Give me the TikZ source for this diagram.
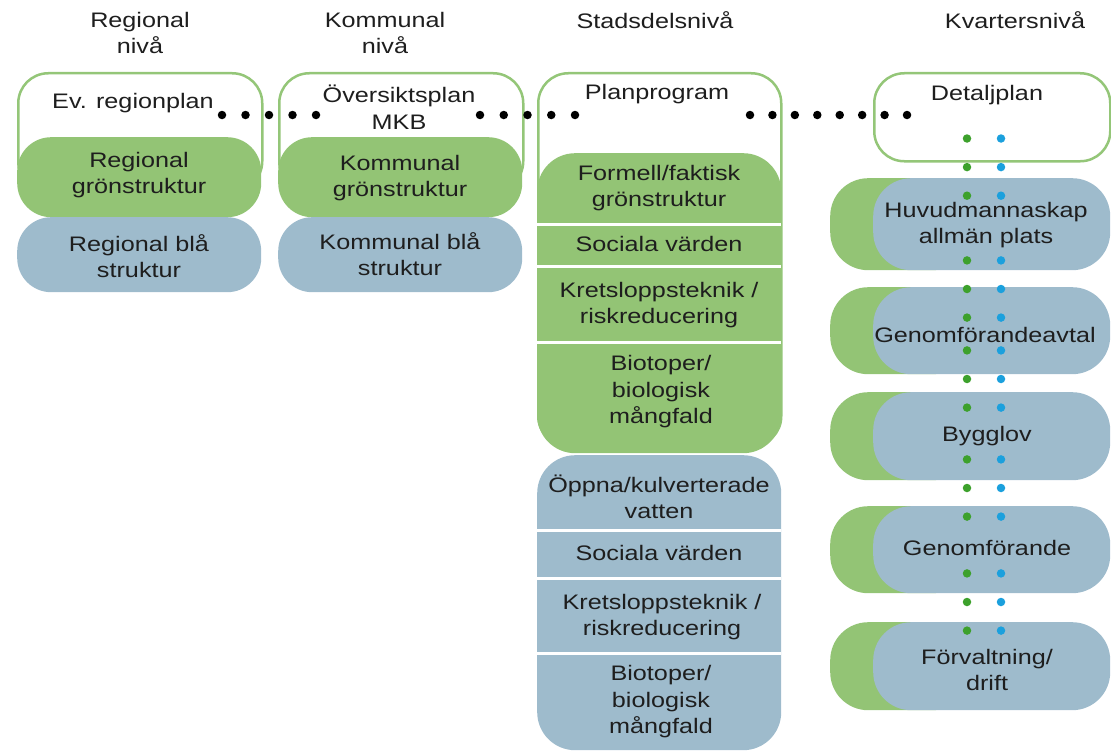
\documentclass[tikz,border=0pt]{standalone}
\usepackage{fontspec}
\setmainfont{Liberation Sans}[FakeStretch=1.2]
\usetikzlibrary{calc}
\definecolor{lgreen}{RGB}{148,198,120}
\definecolor{mgreen}{RGB}{147,196,117}
\definecolor{mblue}{RGB}{158,187,204}
\definecolor{dgreen}{RGB}{61,161,44}
\definecolor{cblue}{RGB}{27,160,221}
\definecolor{txt}{RGB}{30,30,30}
\newcommand\dfont{\fontsize{21pt}{26.5pt}\selectfont}
\begin{document}
\begin{tikzpicture}[x=1pt,y=-1pt,
  outerbox/.style={draw=lgreen, line width=2.5pt, fill=white, rounded corners=30pt, inner sep=0pt, anchor=north west},
  gbox/.style={fill=mgreen, rounded corners=34pt, inner sep=0pt, anchor=north west},
  bbox/.style={fill=mblue, rounded corners=34pt, inner sep=0pt, anchor=north west},
  rowg/.style={fill=mgreen, rounded corners=38pt, inner sep=0pt, anchor=north west, minimum width=140pt},
  rowb/.style={fill=mblue, rounded corners=38pt, inner sep=0pt, anchor=north west, minimum width=237pt},
  lbl/.style={align=center, text=txt, font=\dfont, inner sep=0pt},
  sepline/.style={draw=white, line width=3pt},
  blackdots/.style={draw=black, line width=8.5pt, line cap=round, dash pattern=on 0pt off #1},
  gdots/.style={draw=dgreen, line width=8.5pt, line cap=round, dash pattern=on 0pt off 28.6pt},
  bdots/.style={draw=cblue, line width=8.5pt, line cap=round, dash pattern=on 0pt off 28.6pt}]
\useasboundingbox (0,0) rectangle (1111,752);

% headers
\node[lbl] (hreg) at (140,33) {Regional\\nivå};
\node[lbl] (hkom) at (385,33) {Kommunal\\nivå};
\node[lbl] (hstad) at (655,20) {Stadsdelsnivå};
\node[lbl] (hkv) at (1015,20) {Kvartersnivå};

% column 1
\node[outerbox, minimum width=244pt, minimum height=118pt] (o1) at (17,72) {};
\node[lbl] (evreg) at (133,103) {Ev. regionplan};
\node[gbox, minimum width=244pt, minimum height=80pt] (g1) at (17,137) {};
\node[lbl] (tg1) at (139,175) {Regional\\grönstruktur};
\node[bbox, minimum width=244pt, minimum height=75pt] (b1) at (17,217) {};
\node[lbl] (tb1) at (139,256) {Regional blå\\struktur};

% column 2
\node[outerbox, minimum width=244pt, minimum height=118pt] (o2) at (278,72) {};
\node[lbl] (oversikt) at (399,107) {Översiktsplan\\MKB};
\node[gbox, minimum width=244pt, minimum height=80pt] (g2) at (278,137) {};
\node[lbl] (tg2) at (400,178) {Kommunal\\grönstruktur};
\node[bbox, minimum width=244pt, minimum height=75pt] (b2) at (278,217) {};
\node[lbl] (tb2) at (400,254) {Kommunal blå\\struktur};

% column 3
\node[outerbox, minimum width=243pt, minimum height=373pt] (o3) at (537,72) {};
\node[lbl] (plan) at (657,94) {Planprogram};
\node[gbox, minimum width=244pt, minimum height=300pt, rounded corners=38pt] (g3) at (537,153) {};
\draw[sepline] (g3.west |- 0,224) -- (g3.east |- 0,224);
\draw[sepline] (g3.west |- 0,266) -- (g3.east |- 0,266);
\draw[sepline] (g3.west |- 0,342) -- (g3.east |- 0,342);
\node[lbl] (tg3a) at (659,188) {Formell/faktisk\\grönstruktur};
\node[lbl] (tg3b) at (659,244) {Sociala värden};
\node[lbl] (tg3c) at (659,305) {Kretsloppsteknik /\\riskreducering};
\node[lbl] (tg3d) at (661,392) {Biotoper/\\biologisk\\mångfald};
\node[bbox, minimum width=244pt, minimum height=295pt, rounded corners=38pt] (b3) at (537,455) {};
\draw[sepline] (b3.west |- 0,530) -- (b3.east |- 0,530);
\draw[sepline] (b3.west |- 0,578) -- (b3.east |- 0,578);
\draw[sepline] (b3.west |- 0,653) -- (b3.east |- 0,653);
\node[lbl] (tb3a) at (659,497) {Öppna/kulverterade\\vatten};
\node[lbl] (tb3b) at (659,553) {Sociala värden};
\node[lbl] (tb3c) at (662,617) {Kretsloppsteknik /\\riskreducering};
\node[lbl] (tb3d) at (661,702) {Biotoper/\\biologisk\\mångfald};

% column 4
\node[outerbox, minimum width=236pt, minimum height=88pt] (det) at (873,72) {};
\node[lbl] (tdet) at (987,95) {Detaljplan};
\node[rowg, minimum height=92pt] (r1g) at (830,178) {};
\node[rowb, minimum height=92pt] (r1) at (873,178) {};
\node[lbl] (t1) at (986,225) {Huvudmannaskap\\allmän plats};
\node[rowg, minimum height=87pt] (r2g) at (830,287) {};
\node[rowb, minimum height=87pt] (r2) at (873,287) {};
\node[lbl] (t2) at (985,335) {Genomförandeavtal};
\node[rowg, minimum height=88pt] (r3g) at (830,392) {};
\node[rowb, minimum height=88pt] (r3) at (873,392) {};
\node[lbl] (t3) at (987,436) {Bygglov};
\node[rowg, minimum height=87pt] (r4g) at (830,506) {};
\node[rowb, minimum height=87pt] (r4) at (873,506) {};
\node[lbl] (t4) at (987,548) {Genomförande};
\node[rowg, minimum height=88pt] (r5g) at (830,622) {};
\node[rowb, minimum height=88pt] (r5) at (873,622) {};
\node[lbl] (t5) at (987,670) {Förvaltning/\\drift};

% black dotted connectors
\coordinate (c1a) at (222,115);
\coordinate (c1b) at (316.2,115);
\coordinate (c2a) at (480,115);
\coordinate (c2b) at (575.1,115);
\coordinate (c3a) at (750,115);
\coordinate (c3b) at (907.1,115);
\draw[blackdots=23.5pt] (c1a) -- (c1b);
\draw[blackdots=23.75pt] (c2a) -- (c2b);
\draw[blackdots=22.43pt] (c3a) -- (c3b);

% coloured dotted connectors
\foreach \n/\dy in {det/24, r1/10, r2/24, r3/21, r4/20}{
  \draw[gdots] ($(\n.south -| 967,0)+(0,-\dy)$) -- ++(0,57.3);
  \draw[bdots] ($(\n.south -| 1001,0)+(0,-\dy)$) -- ++(0,57.3);
}
\end{tikzpicture}
\end{document}
